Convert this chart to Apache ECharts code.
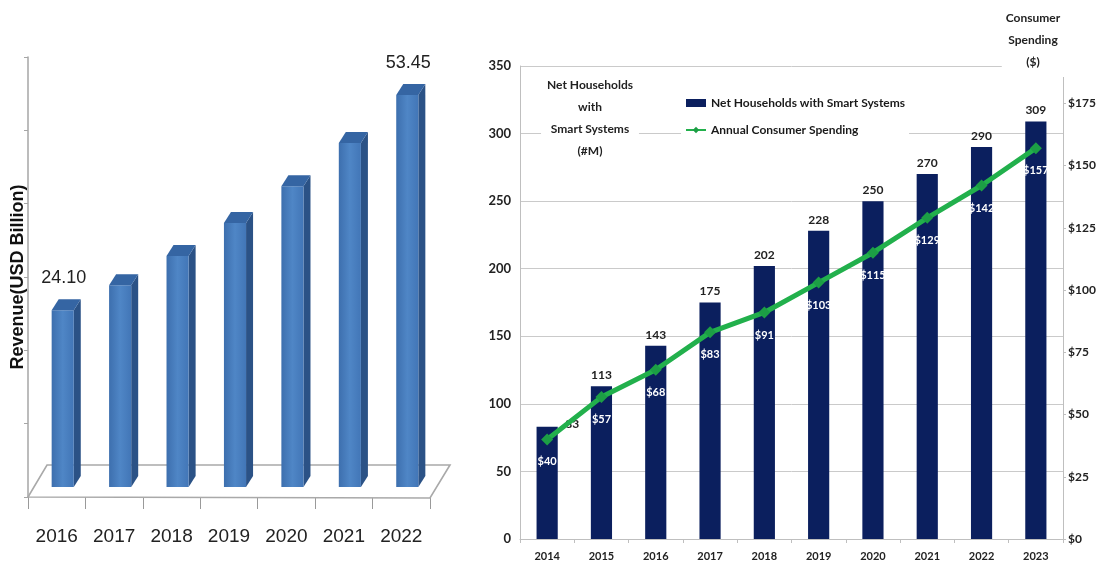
<!DOCTYPE html>
<html><head><meta charset="utf-8">
<script src="https://cdn.jsdelivr.net/npm/echarts@6/dist/echarts.min.js"></script>
<style>html,body{margin:0;padding:0;background:#fff}#c{width:1106px;height:566px}</style>
</head><body><div id="c"></div>
<script>
// ---- Left chart data: Revenue (USD Billion) ----
const revenueYears = ['2016', '2017', '2018', '2019', '2020', '2021', '2022'];
const revenueValues = [24.10, 27.5, 31.5, 36.0, 41.0, 46.9, 53.45];

// ---- Right chart data ----
const householdYears = ['2014', '2015', '2016', '2017', '2018', '2019', '2020', '2021', '2022', '2023'];
const households = [83, 113, 143, 175, 202, 228, 250, 270, 290, 309];
const spending = [40, 57, 68, 83, 91, 103, 115, 129, 142, 157];

const seriesNames = ['Net Households with Smart Systems', 'Annual Consumer Spending'];
const leftAxisTitle = 'Net Households\nwith\nSmart Systems\n(#M)';
const rightAxisTitle = 'Consumer\nSpending\n($)';
const revenueAxisTitle = 'Revenue(USD Billion)';

const chart = echarts.init(document.getElementById('c'));

const DEPTH_X = 7, DEPTH_Y = -11;
const lastIdx = revenueValues.length - 1;
const narrowFont = '"Liberation Sans Narrow","Liberation Sans",Arial,sans-serif';

function renderBar3D(params, api) {
  const i = params.dataIndex;
  const v = api.value(1);
  const top = api.coord([api.value(0), v]);
  const base = api.coord([api.value(0), 0]);
  const band = api.size([1, 0])[0];
  const w = band * 0.385;
  const x0 = top[0] - w / 2, x1 = top[0] + w / 2;
  const yT = top[1], yB = base[1];
  const children = [
    { type: 'polygon', shape: { points: [[x1, yT], [x1 + DEPTH_X, yT + DEPTH_Y], [x1 + DEPTH_X, yB + DEPTH_Y], [x1, yB]] },
      style: { fill: '#2b5286' } },
    { type: 'rect', shape: { x: x0, y: yT, width: w, height: yB - yT },
      style: { fill: new echarts.graphic.LinearGradient(0, 0, 1, 0, [
        { offset: 0, color: '#3d6fae' }, { offset: 0.5, color: '#4f86c6' }, { offset: 1, color: '#4276b7' }]) } },
    { type: 'polygon', shape: { points: [[x0, yT], [x1, yT], [x1 + DEPTH_X, yT + DEPTH_Y], [x0 + DEPTH_X, yT + DEPTH_Y]] },
      style: { fill: '#3565a3' } }
  ];
  if (i === 0 || i === lastIdx) {
    children.push({ type: 'text', style: {
      text: v.toFixed(2), x: top[0] + 1, y: yT + DEPTH_Y - 21, align: 'center', verticalAlign: 'middle',
      fontSize: 18, fontFamily: narrowFont, fill: '#222' } });
  }
  return { type: 'group', children };
}

function renderFloor(params, api) {
  const cs = params.coordSys;
  const b = cs.y + cs.height;
  return {
    type: 'polygon',
    shape: { points: [[cs.x - 6, b + 10], [cs.x + cs.width - 6, b + 11], [cs.x + cs.width + 14, b - 22], [cs.x + 13, b - 22]] },
    style: { fill: '#fff', stroke: '#a9a9a9', lineWidth: 1.6 }
  };
}

const barData = households.map((v, i) => i === 0
  ? { value: v, label: { offset: [25, 8] } }
  : v);

const option = {
  backgroundColor: '#fff',
  animation: false,
  grid: [
    { left: 34, top: 47, width: 402, height: 440 },
    { left: 28, top: 57, width: 402, height: 440 },
    { left: 520, top: 66, width: 543, height: 473 }
  ],
  legend: {
    data: [{ name: seriesNames[0], icon: 'rect' }, { name: seriesNames[1] }],
    orient: 'vertical',
    left: 681, top: 95,
    itemWidth: 20, itemHeight: 8, itemGap: 15,
    backgroundColor: '#fff',
    padding: [2, 4, 2, 4],
    textStyle: { fontSize: 12, fontWeight: 'bold', color: '#1a1a1a', fontFamily: 'Lato' }
  },
  xAxis: [
    { gridIndex: 0, type: 'category', data: revenueYears, show: false },
    { gridIndex: 1, type: 'category', data: revenueYears,
      axisLine: { show: false },
      axisTick: { show: true, length: 12, interval: 0, lineStyle: { color: '#9a9a9a' } },
      axisLabel: { interval: 0, fontSize: 19, fontFamily: narrowFont, color: '#222', margin: 30 } },
    { gridIndex: 2, type: 'category', data: householdYears,
      axisLine: { lineStyle: { color: '#bfbfbf' } },
      axisTick: { show: true, length: 4, lineStyle: { color: '#bfbfbf' } },
      axisLabel: { interval: 0, fontSize: 11, fontWeight: 'bold', color: '#222', fontFamily: 'Lato', margin: 12 } }
  ],
  yAxis: [
    { gridIndex: 0, type: 'value', min: 0, max: 60, show: false },
    { gridIndex: 1, type: 'value', min: 0, max: 60, interval: 10,
      axisLine: { show: true, lineStyle: { color: '#a6a6a6', width: 1.5 } },
      axisTick: { show: true, length: 4, lineStyle: { color: '#a6a6a6' } },
      axisLabel: { show: false }, splitLine: { show: false },
      name: revenueAxisTitle, nameLocation: 'middle', nameRotate: 90, nameGap: 1,
      nameTextStyle: { fontWeight: 'bold', fontSize: 18, fontFamily: '"Liberation Sans",Arial,sans-serif', color: '#111' } },
    { gridIndex: 2, type: 'value', min: 0, max: 350, interval: 50,
      axisLine: { show: true, lineStyle: { color: '#bfbfbf' } },
      axisTick: { show: false },
      axisLabel: { fontSize: 13, fontWeight: 'bold', color: '#222', fontFamily: 'Lato', margin: 9 },
      splitLine: { lineStyle: { color: '#cacaca' } } },
    { gridIndex: 2, type: 'value', position: 'right', min: 0, max: 190, interval: 25,
      axisLine: { show: true, lineStyle: { color: '#bfbfbf' } },
      axisTick: { show: true, length: 3, lineStyle: { color: '#bfbfbf' } },
      axisLabel: { formatter: '${value}', showMaxLabel: false, fontSize: 12, fontWeight: 'bold', color: '#222', fontFamily: 'Lato', margin: 5 },
      splitLine: { show: false } }
  ],
  series: [
    { type: 'custom', xAxisIndex: 0, yAxisIndex: 0, z: 1, renderItem: renderFloor, data: [[0, 0]], silent: true },
    { type: 'custom', xAxisIndex: 0, yAxisIndex: 0, z: 2, renderItem: renderBar3D,
      data: revenueValues.map((v, i) => [i, v]) },
    { name: seriesNames[0], type: 'bar', xAxisIndex: 2, yAxisIndex: 2,
      data: barData, barWidth: '39%',
      itemStyle: { color: '#0b1f5e' },
      label: { show: true, position: 'top', distance: 5, fontSize: 12, fontWeight: 'bold', color: '#222', fontFamily: 'Lato' } },
    { name: seriesNames[1], type: 'line', xAxisIndex: 2, yAxisIndex: 3, z: 3,
      data: spending,
      symbol: 'diamond', symbolSize: 12,
      lineStyle: { color: '#22b04c', width: 5 },
      itemStyle: { color: '#1c9e45' },
      label: { show: true, position: 'bottom', distance: 11, formatter: '${c}', color: '#fff', fontSize: 11, fontWeight: 'bold', fontFamily: 'Lato' } }
  ],
  graphic: [
    { type: 'text', x: 590, y: 74, z: 10,
      style: { text: leftAxisTitle, align: 'center', verticalAlign: 'top', fontSize: 12, fontWeight: 'bold',
        fontFamily: 'Lato', lineHeight: 22, fill: '#222', backgroundColor: '#fff', padding: [0, 6, 0, 6] } },
    { type: 'text', x: 1033, y: 7, z: 10,
      style: { text: rightAxisTitle, align: 'center', verticalAlign: 'top', fontSize: 12, fontWeight: 'bold',
        fontFamily: 'Lato', lineHeight: 22, fill: '#222', backgroundColor: '#fff', padding: [0, 4, 4, 4] } }
  ]
};
chart.setOption(option);
</script>
</body></html>
